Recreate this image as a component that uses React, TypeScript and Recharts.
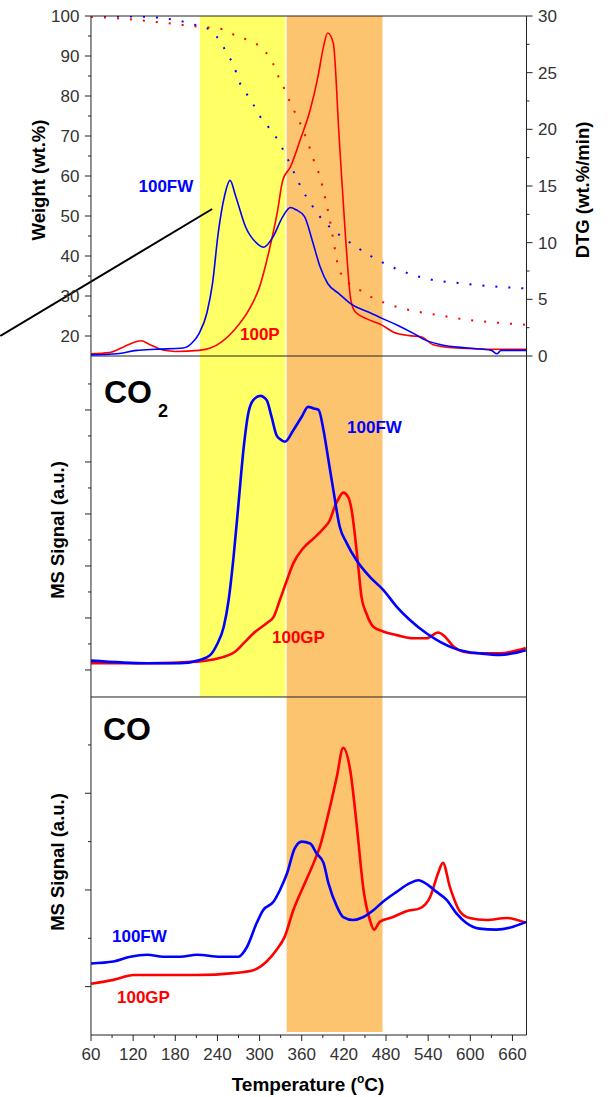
import React from "react"
import { LineChart, Line, XAxis, YAxis, ReferenceArea, ReferenceLine, ReferenceDot, Customized } from "recharts"

const FONT = "'Liberation Sans', Arial, Helvetica, sans-serif"
const BLUE = "#0000ff"
const RED = "#ff0000"
const YELLOW = "#ffff66"
const ORANGE = "#fdc470"
const AXIS = "#222"
const TICK_TEXT = "#333"

// temperature axis
const tempDomain: [number, number] = [60, 680]
const tempMajor = [60, 120, 180, 240, 300, 360, 420, 480, 540, 600, 660]
const tempMinor = [90, 150, 210, 270, 330, 390, 450, 510, 570, 630]

// shaded temperature windows
const yellowBand = [215, 336.5]
const orangeBand = [338.5, 475]

// the three panels share one plot; each y axis only covers its own panel
const weightDomain: [number, number] = [-154.75, 100] // panel: 15..100
const dtgDomain: [number, number] = [-59.91, 30] // panel: 0..30
const co2Domain: [number, number] = [-6.02, 13.576] // panel: 0.48..7.02
const coDomain: [number, number] = [0.5, 11.038] // panel: 0.5..4.0

const weightMajor = [20, 30, 40, 50, 60, 70, 80, 90, 100]
const weightMinor = [25, 35, 45, 55, 65, 75, 85, 95]
const dtgMajor = [0, 5, 10, 15, 20, 25, 30]
const dtgMinor = [2.5, 7.5, 12.5, 17.5, 22.5, 27.5]
const co2Major = [1, 2, 3, 4, 5, 6]
const co2Minor = [1.5, 2.5, 3.5, 4.5, 5.5, 6.5]
const coMajor = [1, 2, 3]
const coMinor = [1.5, 2.5, 3.5]

// DTG (wt.%/min) vs temperature
const dtgFW: [number, number][] = [
  [60, 0.1], [97, 0.2], [125, 0.5], [153, 0.6], [191, 0.7], [203, 1.1], [214, 2.0], [225, 3.8],
  [233, 6.4], [241, 10.8], [250, 14.1], [258, 15.5], [266, 14.1], [280, 11.4], [297, 9.9], [306, 9.6],
  [319, 10.5], [333, 12.3], [344, 13.1], [352, 12.9], [364, 12.3], [375, 10.2], [386, 7.9], [397, 6.4],
  [413, 5.5], [430, 4.6], [458, 3.8], [475, 3.3], [497, 2.7], [519, 2.0], [536, 1.4], [558, 1.0],
  [597, 0.7], [630, 0.5], [638, 0.2], [644, 0.5], [680, 0.5],
]
const dtgP: [number, number][] = [
  [60, 0.2], [86, 0.3], [103, 0.7], [117, 1.1], [131, 1.35], [144, 1.0], [164, 0.5], [180, 0.4],
  [214, 0.5], [230, 0.7], [247, 1.3], [264, 2.3], [286, 4.2], [300, 6.1], [314, 9.4], [325, 12.6],
  [333, 15.5], [344, 16.7], [358, 19.1], [372, 21.7], [383, 24.6], [391, 27.3], [397, 28.5], [405, 27.6],
  [413, 19.6], [422, 10.8], [430, 4.9], [436, 3.9], [452, 3.3], [475, 2.7], [491, 2.1], [513, 1.8],
  [530, 1.7], [547, 1.0], [580, 0.7], [624, 0.6], [680, 0.6],
]

// weight (wt.%) vs temperature
const wtFW: [number, number][] = [
  [60, 100], [136, 99.8], [191, 98.6], [208, 97.8], [230, 96.5], [244, 93.6], [255, 90.2], [264, 87.3],
  [270, 84], [280, 81], [290, 78.2], [301, 74.8], [314, 71.9], [326, 69], [336, 65.7], [354, 59],
  [361, 56.5], [374, 52.8], [386, 49.8], [402, 46.9], [422, 44.2], [441, 41.9], [458, 40], [477, 38.2],
  [511, 35.7], [547, 34], [586, 33.2], [625, 32.5], [680, 31.9],
]
const wtP: [number, number][] = [
  [60, 99.8], [114, 99.2], [169, 98.2], [214, 97.3], [247, 96.7], [269, 94.8], [289, 93.6], [308, 91.1],
  [319, 88.2], [327, 84.8], [336, 81.5], [344, 78.2], [352, 75.3], [361, 71.9], [369, 68.2], [377, 64],
  [386, 59.8], [394, 54], [400, 49], [405, 44], [412, 37.3], [419, 34.8], [441, 31.7], [463, 29.4],
  [486, 27.8], [513, 26.5], [552, 25.3], [597, 24], [641, 23.3], [680, 22.8],
]

// CO2 MS signal
const co2FW: [number, number][] = [
  [60, 1.18], [140, 1.13], [187, 1.13], [215, 1.19], [230, 1.29], [239, 1.48], [249, 1.83], [256, 2.35],
  [263, 3.18], [270, 4.2], [277, 5.23], [284, 5.94], [291, 6.19], [301, 6.27], [310, 6.19], [317, 5.87],
  [324, 5.52], [329, 5.44], [336, 5.39], [348, 5.61], [360, 5.87], [369, 6.06], [377, 6.03], [384, 6.0],
  [391, 5.61], [398, 5.04], [405, 4.46], [414, 3.76], [424, 3.44], [438, 3.11], [457, 2.79], [476, 2.54],
  [495, 2.22], [514, 1.96], [538, 1.7], [557, 1.54], [576, 1.42], [595, 1.35], [613, 1.32], [642, 1.29],
  [661, 1.32], [679, 1.38],
]
const co2GP: [number, number][] = [
  [60, 1.13], [140, 1.13], [211, 1.16], [234, 1.2], [253, 1.27], [265, 1.35], [277, 1.51], [291, 1.7],
  [310, 1.9], [320, 2.02], [329, 2.35], [339, 2.73], [348, 3.05], [362, 3.34], [377, 3.53], [391, 3.72],
  [400, 3.88], [407, 4.14], [414, 4.33], [419, 4.41], [426, 4.33], [431, 4.08], [436, 3.56], [441, 2.92],
  [445, 2.41], [452, 2.09], [462, 1.83], [476, 1.74], [495, 1.67], [519, 1.61], [538, 1.61], [554, 1.72],
  [564, 1.64], [576, 1.45], [590, 1.35], [613, 1.32], [642, 1.32], [679, 1.42],
]

// CO MS signal
const coFW: [number, number][] = [
  [60, 1.24], [92, 1.26], [116, 1.31], [140, 1.33], [163, 1.31], [187, 1.31], [211, 1.33], [244, 1.31],
  [270, 1.31], [282, 1.41], [296, 1.66], [305, 1.79], [320, 1.88], [329, 2.0], [339, 2.17], [350, 2.43],
  [360, 2.5], [372, 2.48], [381, 2.38], [391, 2.28], [398, 2.07], [410, 1.83], [419, 1.72], [433, 1.69],
  [448, 1.72], [462, 1.79], [476, 1.88], [495, 1.98], [514, 2.07], [526, 2.1], [540, 2.05], [552, 1.98],
  [566, 1.9], [580, 1.76], [594, 1.66], [613, 1.6], [637, 1.59], [661, 1.62], [679, 1.67],
]
const coGP: [number, number][] = [
  [60, 1.03], [92, 1.07], [121, 1.12], [163, 1.12], [211, 1.12], [263, 1.14], [291, 1.17], [310, 1.26],
  [324, 1.38], [336, 1.52], [348, 1.79], [362, 2.03], [377, 2.28], [386, 2.45], [398, 2.79], [410, 3.17],
  [419, 3.47], [429, 3.24], [438, 2.69], [448, 2.0], [457, 1.69], [463, 1.59], [471, 1.67], [490, 1.72],
  [509, 1.78], [528, 1.81], [543, 1.93], [554, 2.17], [561, 2.28], [571, 2.03], [585, 1.78], [599, 1.71],
  [623, 1.69], [652, 1.71], [679, 1.66],
]

const toData = (pts: [number, number][]) => pts.map(([t, v]) => ({ t, v }))

const TS = 6
const TM = 5
const isIn = (list: number[], v: number) => list.some((m) => Math.abs(m - v) < 1e-6)

const leftTick = (majors: number[], labels: boolean) => (props: any) => {
  const { x, y, payload } = props
  const ax = x + TS + TM
  const major = isIn(majors, payload.value)
  return (
    <g>
      <line x1={ax - (major ? 6 : 3)} y1={y} x2={ax} y2={y} stroke={AXIS} />
      {major && labels && (
        <text x={ax - 11.5} y={y} dy="0.36em" textAnchor="end" fontSize={17} fill={TICK_TEXT} fontFamily={FONT}>
          {payload.value}
        </text>
      )}
    </g>
  )
}

const rightTick = (majors: number[]) => (props: any) => {
  const { x, y, payload } = props
  const ax = x - TS - TM
  const major = isIn(majors, payload.value)
  return (
    <g>
      <line x1={ax} y1={y} x2={ax + (major ? 6 : 3)} y2={y} stroke={AXIS} />
      {major && (
        <text x={ax + 11.5} y={y} dy="0.36em" textAnchor="start" fontSize={17} fill={TICK_TEXT} fontFamily={FONT}>
          {payload.value}
        </text>
      )}
    </g>
  )
}

const bottomTick = (props: any) => {
  const { x, y, payload } = props
  const ay = y - TS - TM
  const major = isIn(tempMajor, payload.value)
  return (
    <g>
      <line x1={x} y1={ay} x2={x} y2={ay + (major ? 6 : 3)} stroke={AXIS} />
      {major && (
        <text x={x} y={ay + 13} dy="0.71em" textAnchor="middle" fontSize={17} fill={TICK_TEXT} fontFamily={FONT}>
          {payload.value}
        </text>
      )}
    </g>
  )
}

const VTitle = ({ x, y, children }: any) => (
  <text
    x={x}
    y={y}
    transform={`rotate(-90 ${x} ${y})`}
    textAnchor="middle"
    dominantBaseline="central"
    fontSize={18.5}
    fontWeight="bold"
    fill="#000"
    fontFamily={FONT}
  >
    {children}
  </text>
)

const Titles = () => (
  <g>
    <VTitle x={38} y={180}>Weight (wt.%)</VTitle>
    <VTitle x={582} y={190}>DTG (wt.%/min)</VTitle>
    <VTitle x={57} y={530}>MS Signal (a.u.)</VTitle>
    <VTitle x={57} y={862}>MS Signal (a.u.)</VTitle>
    <text x={104} y={403} fontSize={32} fontWeight="bold" fill="#000" fontFamily={FONT}>CO</text>
    <text x={158} y={417} fontSize={18} fontWeight="bold" fill="#000" fontFamily={FONT}>2</text>
    <text x={103} y={740} fontSize={32} fontWeight="bold" fill="#000" fontFamily={FONT}>CO</text>
    <text x={308} y={1091} textAnchor="middle" fontSize={19} fontWeight="bold" fill="#000" fontFamily={FONT}>
      Temperature (<tspan fontSize={12} dy={-8}>o</tspan>
      <tspan dy={8}>C)</tspan>
    </text>
  </g>
)

// series name tags, anchored at their left/centre point
const seriesLabel = (text: string, color: string) => ({
  value: text,
  position: "right" as const,
  offset: 0,
  fill: color,
  fontSize: 17,
  fontWeight: "bold",
  fontFamily: FONT,
})

export default function App() {
  return (
    <div style={{ position: "absolute", left: 0, top: 0, width: 611, height: 1097, background: "#fff" }}>
      <LineChart width={611} height={1097} margin={{ top: 16, right: 24.5, bottom: 7, left: 31 }}>
        <XAxis
          type="number"
          dataKey="t"
          domain={tempDomain}
          allowDataOverflow
          ticks={[...tempMinor, ...tempMajor]}
          interval={0}
          height={55}
          tickSize={TS}
          tickMargin={TM}
          tickLine={false}
          tick={bottomTick}
          axisLine={{ stroke: AXIS }}
        />
        <YAxis
          yAxisId="c2"
          type="number"
          domain={co2Domain}
          allowDataOverflow
          ticks={[...co2Minor, ...co2Major]}
          interval={0}
          width={0.01}
          tickSize={TS}
          tickMargin={TM}
          tickLine={false}
          tick={leftTick(co2Major, false)}
          axisLine={false}
        />
        <YAxis
          yAxisId="co"
          type="number"
          domain={coDomain}
          allowDataOverflow
          ticks={[...coMinor, ...coMajor]}
          interval={0}
          width={0.01}
          tickSize={TS}
          tickMargin={TM}
          tickLine={false}
          tick={leftTick(coMajor, false)}
          axisLine={false}
        />
        <YAxis
          yAxisId="w"
          type="number"
          domain={weightDomain}
          allowDataOverflow
          ticks={[...weightMinor, ...weightMajor]}
          interval={0}
          width={59.98}
          tickSize={TS}
          tickMargin={TM}
          tickLine={false}
          tick={leftTick(weightMajor, true)}
          axisLine={{ stroke: AXIS }}
        />
        <YAxis
          yAxisId="d"
          orientation="right"
          type="number"
          domain={dtgDomain}
          allowDataOverflow
          ticks={[...dtgMinor, ...dtgMajor]}
          interval={0}
          width={60}
          tickSize={TS}
          tickMargin={TM}
          tickLine={false}
          tick={rightTick(dtgMajor)}
          axisLine={{ stroke: AXIS }}
        />

        <ReferenceArea yAxisId="c2" x1={yellowBand[0]} x2={yellowBand[1]} y1={0.48} y2={co2Domain[1]} fill={YELLOW} fillOpacity={1} stroke="none" />
        <ReferenceArea yAxisId="co" x1={orangeBand[0]} x2={orangeBand[1]} y1={0.53} y2={coDomain[1]} fill={ORANGE} fillOpacity={1} stroke="none" />

        <ReferenceLine yAxisId="w" y={100} stroke={AXIS} />
        <ReferenceLine yAxisId="w" y={15} stroke={AXIS} />
        <ReferenceLine yAxisId="c2" y={0.48} stroke={AXIS} />

        <Line yAxisId="w" data={toData(wtFW)} dataKey="v" type="monotone" stroke={BLUE} strokeWidth={2} strokeDasharray="2 11" dot={false} isAnimationActive={false} />
        <Line yAxisId="w" data={toData(wtP)} dataKey="v" type="monotone" stroke={RED} strokeWidth={2} strokeDasharray="2 11" dot={false} isAnimationActive={false} />
        <Line yAxisId="d" data={toData(dtgP)} dataKey="v" type="monotone" stroke={RED} strokeWidth={1.6} dot={false} isAnimationActive={false} />
        <Line yAxisId="d" data={toData(dtgFW)} dataKey="v" type="monotone" stroke={BLUE} strokeWidth={1.6} dot={false} isAnimationActive={false} />
        <Line yAxisId="c2" data={toData(co2GP)} dataKey="v" type="monotone" stroke={RED} strokeWidth={2.6} dot={false} isAnimationActive={false} />
        <Line yAxisId="c2" data={toData(co2FW)} dataKey="v" type="monotone" stroke={BLUE} strokeWidth={2.6} dot={false} isAnimationActive={false} />
        <Line yAxisId="co" data={toData(coGP)} dataKey="v" type="monotone" stroke={RED} strokeWidth={2.6} dot={false} isAnimationActive={false} />
        <Line yAxisId="co" data={toData(coFW)} dataKey="v" type="monotone" stroke={BLUE} strokeWidth={2.6} dot={false} isAnimationActive={false} />

        <ReferenceLine
          yAxisId="w"
          segment={[{ x: -69, y: 20 }, { x: 232.5, y: 51.75 }]}
          ifOverflow="visible"
          stroke="#000"
          strokeWidth={2}
        />

        <ReferenceDot yAxisId="w" x={127.6} y={57.4} r={0} stroke="none" label={seriesLabel("100FW", BLUE)} />
        <ReferenceDot yAxisId="w" x={272.1} y={20.4} r={0} stroke="none" label={seriesLabel("100P", RED)} />
        <ReferenceDot yAxisId="c2" x={424.5} y={5.67} r={0} stroke="none" label={seriesLabel("100FW", BLUE)} />
        <ReferenceDot yAxisId="c2" x={317.7} y={1.63} r={0} stroke="none" label={seriesLabel("100GP", RED)} />
        <ReferenceDot yAxisId="co" x={89.9} y={1.529} r={0} stroke="none" label={seriesLabel("100FW", BLUE)} />
        <ReferenceDot yAxisId="co" x={97} y={0.893} r={0} stroke="none" label={seriesLabel("100GP", RED)} />

        <Customized component={Titles} />
      </LineChart>
    </div>
  )
}
